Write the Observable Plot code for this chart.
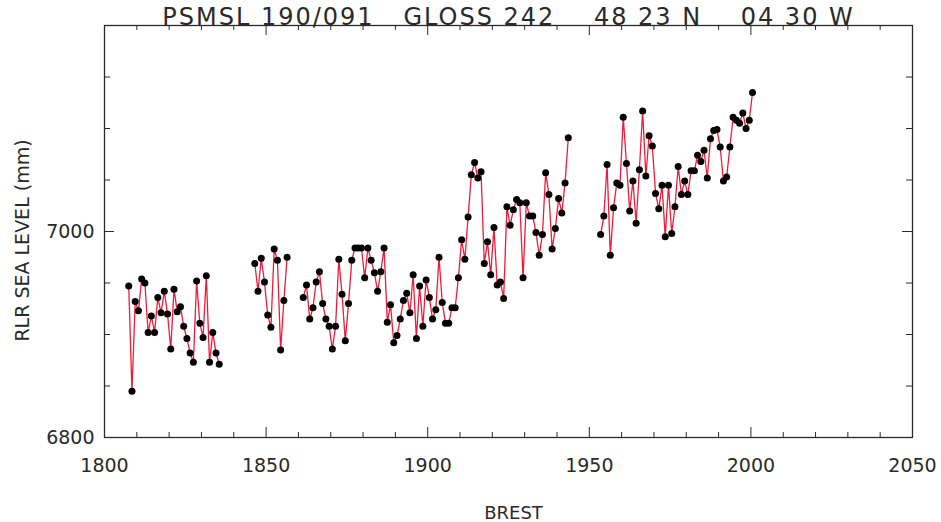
<!DOCTYPE html>
<html><head><meta charset="utf-8">
<script src="https://cdn.jsdelivr.net/npm/d3@7"></script>
<script src="https://cdn.jsdelivr.net/npm/@observablehq/plot@0.6"></script>
<style>
html,body{margin:0;padding:0;background:#fff;}
svg text{white-space:pre;}
</style></head><body><div id="chart"></div>
<script>
// Brest annual mean RLR sea level (mm)
const years1 = [1807,1808,1809,1810,1811,1812,1813,1814,1815,1816,1817,1818,1819,1820,1821,1822,1823,1824,1825,1826,1827,1828,1829,1830,1831,1832,1833,1834,1835];
const level1 = [6947,6845,6932,6923,6954,6950,6902,6918,6902,6936,6921,6942,6920,6886,6944,6922,6927,6908,6896,6882,6873,6952,6911,6897,6957,6873,6902,6882,6871];

const years2 = [1846,1847,1848,1849,1850,1851,1852,1853,1854,1855,1856];
const level2 = [6969,6942,6974,6951,6919,6907,6983,6972,6885,6933,6975];

const years3 = [1861,1862,1863,1864,1865,1866,1867,1868,1869,1870,1871,1872,1873,1874,1875,1876,1877,1878,1879,1880,
  1881,1882,1883,1884,1885,1886,1887,1888,1889,1890,1891,1892,1893,1894,1895,1896,1897,1898,1899,1900,
  1901,1902,1903,1904,1905,1906,1907,1908,1909,1910,1911,1912,1913,1914,1915,1916,1917,1918,1919,1920,
  1921,1922,1923,1924,1925,1926,1927,1928,1929,1930,1931,1932,1933,1934,1935,1936,1937,1938,1939,1940,
  1941,1942,1943];
const level3 = [6936,6948,6915,6926,6951,6961,6930,6915,6908,6886,6908,6973,6939,6894,6930,6972,6984,6984,6984,6955,
  6984,6972,6960,6942,6961,6984,6912,6929,6892,6899,6915,6933,6940,6921,6958,6896,6947,6908,6953,6936,
  6915,6924,6975,6931,6911,6911,6926,6926,6955,6992,6973,7014,7055,7067,7052,7058,6969,6990,6958,7004,
  6948,6951,6935,7024,7006,7021,7031,7028,6955,7028,7015,7015,6999,6977,6997,7057,7036,6983,7003,7032,
  7018,7047,7091];

const years4 = [1953,1954,1955,1956,1957,1958,1959,1960,1961,1962,1963,1964,1965,1966,1967,1968,1969,1970,1971,1972,
  1973,1974,1975,1976,1977,1978,1979,1980,1981,1982,1983,1984,1985,1986,1987,1988,1989,1990,1991,1992,
  1993,1994,1995,1996,1997,1998,1999,2000];
const level4 = [6997,7015,7065,6977,7023,7047,7045,7111,7066,7020,7049,7008,7060,7117,7054,7093,7083,7037,7022,7045,
  6995,7045,6998,7024,7063,7036,7049,7036,7059,7059,7074,7068,7079,7052,7090,7098,7099,7082,7049,7053,
  7082,7111,7108,7105,7115,7100,7108,7135];

const xMajor = [1800,1850,1900,1950,2000,2050];
const xMinor = [1810,1820,1830,1840,1860,1870,1880,1890,1910,1920,1930,1940,1960,1970,1980,1990,2010,2020,2030,2040];
const yMajor = [6800,7000,7200];
const yMinor = [6850,6900,6950,7050,7100,7150];
const xLabels = [1800,1850,1900,1950,2000,2050];
const yLabels = [6800,7000];

const titleText = "PSMSL 190/091   GLOSS 242    48 23 N    04 30 W";
const xTitle = "BREST";
const yTitle = "RLR SEA LEVEL (mm)";

const segments = [[years1, level1],[years2, level2],[years3, level3],[years4, level4]];
const data = [];
segments.forEach(([ys, vs], s) => ys.forEach((y, i) => data.push({year: y, x: y + 0.5, v: vs[i], seg: s})));

const W = 941, H = 522, mL = 104, mR = 29, mT = 25, mB = 85;
const fw = W - mL - mR, fh = H - mT - mB;
const ink = "#2a2a2a";
const font = "DejaVu Sans, Liberation Sans, sans-serif";

const chart = Plot.plot({
  width: W, height: H,
  marginLeft: mL, marginRight: mR, marginTop: mT, marginBottom: mB,
  x: {domain: [1800, 2050], axis: null},
  y: {domain: [6800, 7200], axis: null},
  style: {background: "#fff", fontFamily: font, color: ink},
  marks: [
    Plot.tickX(xMinor, {x: d => d, insetTop: fh - 5, stroke: ink}),
    Plot.tickX(xMinor, {x: d => d, insetBottom: fh - 5, stroke: ink}),
    Plot.tickX(xMajor, {x: d => d, insetTop: fh - 10, stroke: ink}),
    Plot.tickX(xMajor, {x: d => d, insetBottom: fh - 10, stroke: ink}),
    Plot.tickY(yMinor, {y: d => d, insetRight: fw - 6, stroke: ink}),
    Plot.tickY(yMinor, {y: d => d, insetLeft: fw - 6, stroke: ink}),
    Plot.tickY(yMajor, {y: d => d, insetRight: fw - 10, stroke: ink}),
    Plot.tickY(yMajor, {y: d => d, insetLeft: fw - 10, stroke: ink}),
    Plot.frame({stroke: ink, strokeWidth: 1.3}),
    Plot.line(data, {x: "x", y: "v", z: "seg", stroke: "#ee1c3a", strokeWidth: 1.3}),
    Plot.dot(data, {x: "x", y: "v", r: 3.5, fill: "#000", stroke: "none"}),
    Plot.text(xLabels, {x: d => d, frameAnchor: "bottom", dy: 28, text: d => String(d), fontSize: 19, fill: ink, textAnchor: "middle", lineAnchor: "middle"}),
    Plot.text(yLabels, {y: d => d, frameAnchor: "left", dx: -10, text: d => String(d), fontSize: 19, fill: ink, textAnchor: "end", lineAnchor: "middle"}),
    Plot.text([titleText], {frameAnchor: "top", dy: -8, text: d => d, fontSize: 24, fill: ink, textAnchor: "middle", lineAnchor: "middle"}),
    Plot.text([xTitle], {frameAnchor: "bottom", dx: 5, dy: 76, text: d => d, fontSize: 18, fill: ink, textAnchor: "middle", lineAnchor: "middle"}),
    Plot.text([yTitle], {frameAnchor: "left", dx: -82, dy: 9, text: d => d, fontSize: 19, fill: ink, rotate: -90, textAnchor: "middle", lineAnchor: "middle"})
  ]
});
// widen the title's letter spacing like the reference's stroke font
d3.select(chart).selectAll("text").filter(function() { return this.textContent === titleText; })
  .style("letter-spacing", "2px");
document.getElementById("chart").appendChild(chart);
</script></body></html>
